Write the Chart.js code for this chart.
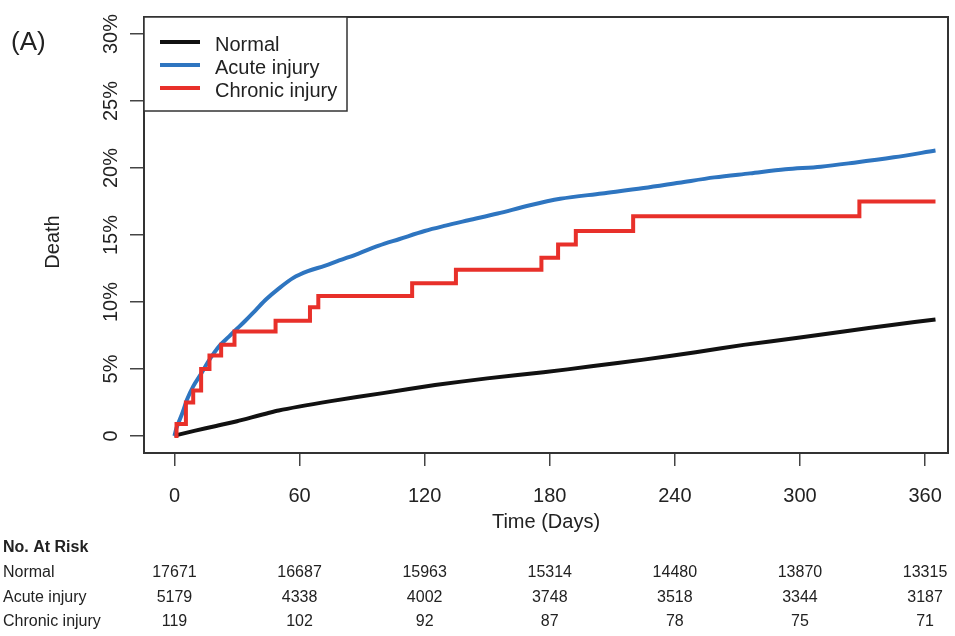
<!DOCTYPE html>
<html>
<head>
<meta charset="utf-8">
<script src="https://cdn.jsdelivr.net/npm/chart.js@4"></script>
<style>
  body { margin: 0; background: #fff; }
  canvas { display: block; }
</style>
</head>
<body>
<canvas id="myChart" width="955" height="636"></canvas>
<script>
// ===== data =====
const xTicks = [0, 60, 120, 180, 240, 300, 360];
const yTicks = [0, 5, 10, 15, 20, 25, 30];
const yTickLabels = ['0', '5%', '10%', '15%', '20%', '25%', '30%'];

const seriesNames = ['Normal', 'Acute injury', 'Chronic injury'];

const normalDays = [0, 2, 10, 20, 30, 50, 75, 100, 125, 150, 177, 200, 225, 250, 273, 300, 321, 345, 365];
const normalPct  = [0, 0.1, 0.4, 0.75, 1.1, 1.9, 2.6, 3.2, 3.8, 4.3, 4.75, 5.2, 5.7, 6.25, 6.8, 7.35, 7.8, 8.3, 8.7];

const acuteDays = [0, 1, 2, 4, 6, 9, 13, 16, 19, 22, 26, 30, 34, 39, 44, 50, 57, 64, 72, 79, 88, 98, 108, 120, 130, 141, 155, 170, 185, 205, 225, 242, 259, 276, 293, 310, 326, 345, 365];
const acutePct  = [0, 0.6, 1.0, 1.8, 2.7, 3.7, 4.7, 5.5, 6.2, 6.8, 7.4, 8.0, 8.6, 9.4, 10.2, 11.0, 11.8, 12.3, 12.7, 13.1, 13.6, 14.2, 14.7, 15.3, 15.7, 16.1, 16.6, 17.2, 17.7, 18.1, 18.5, 18.9, 19.3, 19.6, 19.9, 20.1, 20.4, 20.8, 21.3];

const chronicDays = [0, 1, 5.5, 9, 12.8, 16.8, 22.4, 28.8, 48.5, 65, 69, 114, 135, 176, 184, 192.5, 220, 328.5, 365];
const chronicPct  = [0, 0.9, 2.5, 3.4, 5.0, 6.0, 6.8, 7.8, 8.6, 9.6, 10.45, 11.4, 12.4, 13.3, 14.3, 15.3, 16.4, 17.5, 17.5];

// No. At Risk table
const riskNormal  = [17671, 16687, 15963, 15314, 14480, 13870, 13315];
const riskAcute   = [5179, 4338, 4002, 3748, 3518, 3344, 3187];
const riskChronic = [119, 102, 92, 87, 78, 75, 71];

const colors = ['#111111', 'rgb(46, 117, 192)', 'rgb(232, 48, 42)'];
const FONT = '"Liberation Sans", Arial, sans-serif';

function toPoints(days, vals) {
  return days.map((d, i) => ({ x: d, y: vals[i] }));
}

// ===== R style decorations: box, rotated y labels, legend, risk table =====
const decorations = {
  id: 'decorations',
  beforeDatasetsDraw(chart) {
    const { ctx, chartArea: a } = chart;
    ctx.save();
    ctx.strokeStyle = '#333';
    ctx.lineWidth = 2;
    ctx.strokeRect(a.left, a.top, a.right - a.left, a.bottom - a.top);
    ctx.restore();
  },
  afterDraw(chart) {
    const { ctx, chartArea: a } = chart;
    const ys = chart.scales.y;
    const xs = chart.scales.x;
    ctx.save();
    ctx.fillStyle = '#222';

    // y tick labels, rotated like R's las=0
    ctx.font = `20px ${FONT}`;
    ctx.textAlign = 'center';
    ctx.textBaseline = 'middle';
    yTicks.forEach((v, i) => {
      ctx.save();
      ctx.translate(111, ys.getPixelForValue(v));
      ctx.rotate(-Math.PI / 2);
      ctx.fillText(yTickLabels[i], 0, 0);
      ctx.restore();
    });

    // y axis title
    ctx.save();
    ctx.translate(53, 242);
    ctx.rotate(-Math.PI / 2);
    ctx.fillText('Death', 0, 0);
    ctx.restore();

    // panel tag
    ctx.font = `26px ${FONT}`;
    ctx.textAlign = 'left';
    ctx.fillText('(A)', 11, 43);

    // legend box
    ctx.fillStyle = '#fff';
    ctx.fillRect(a.left, a.top, 203, 94);
    ctx.strokeStyle = '#333';
    ctx.lineWidth = 1.5;
    ctx.strokeRect(a.left, a.top, 203, 94);
    ctx.font = `20px ${FONT}`;
    seriesNames.forEach((name, i) => {
      const ly = a.top + 25 + i * 23;
      ctx.strokeStyle = colors[i];
      ctx.lineWidth = 4;
      ctx.beginPath();
      ctx.moveTo(a.left + 16, ly);
      ctx.lineTo(a.left + 56, ly);
      ctx.stroke();
      ctx.fillStyle = '#222';
      ctx.fillText(name, a.left + 71, ly + 3);
    });

    // No. At Risk table
    ctx.fillStyle = '#222';
    ctx.font = `bold 16px ${FONT}`;
    ctx.textAlign = 'left';
    ctx.fillText('No. At Risk', 3, 548);
    const rows = [riskNormal, riskAcute, riskChronic];
    rows.forEach((row, r) => {
      const ry = 573 + r * 24.5;
      ctx.font = `16px ${FONT}`;
      ctx.textAlign = 'left';
      ctx.fillText(seriesNames[r], 3, ry);
      ctx.textAlign = 'center';
      row.forEach((n, i) => {
        ctx.fillText(String(n), xs.getPixelForValue(xTicks[i]), ry);
      });
    });
    ctx.restore();
  }
};

// ===== chart =====
const data = {
  datasets: [
    {
      label: seriesNames[0],
      data: toPoints(normalDays, normalPct),
      borderColor: colors[0],
      borderWidth: 4,
      pointRadius: 0,
      tension: 0.2,
      order: 3,
    },
    {
      label: seriesNames[1],
      data: toPoints(acuteDays, acutePct),
      borderColor: colors[1],
      borderWidth: 4,
      pointRadius: 0,
      cubicInterpolationMode: 'monotone',
      order: 2,
    },
    {
      label: seriesNames[2],
      data: toPoints(chronicDays, chronicPct),
      borderColor: colors[2],
      borderWidth: 4,
      pointRadius: 0,
      stepped: true,
      order: 1,
    },
  ],
};

const config = {
  type: 'line',
  data,
  options: {
    responsive: false,
    animation: false,
    events: [],
    layout: { padding: { left: 0, top: 17, right: 7, bottom: 100 } },
    plugins: {
      legend: { display: false },
      tooltip: { enabled: false },
    },
    scales: {
      x: {
        type: 'linear',
        min: -14.6,
        max: 371,
        afterBuildTicks: s => { s.ticks = xTicks.map(v => ({ value: v })); },
        afterFit: s => { s.height = 83; s.paddingLeft = 0; s.paddingRight = 0; },
        border: { display: false },
        grid: { drawOnChartArea: false, drawTicks: true, tickLength: 13, color: '#444', lineWidth: 1.5 },
        ticks: { color: '#222', font: { family: FONT, size: 20 }, padding: 18, maxRotation: 0 },
        title: { display: true, text: 'Time (Days)', color: '#222', font: { family: FONT, size: 20 }, padding: { top: 0, bottom: 2 } },
      },
      y: {
        type: 'linear',
        min: -1.27,
        max: 31.27,
        afterBuildTicks: s => { s.ticks = yTicks.map(v => ({ value: v })); },
        afterFit: s => { s.width = 144; s.paddingTop = 0; s.paddingBottom = 0; },
        border: { display: false },
        grid: { drawOnChartArea: false, drawTicks: true, tickLength: 14, color: '#444', lineWidth: 1.5 },
        ticks: { display: false },
        title: { display: false },
      },
    },
  },
  plugins: [decorations],
};

new Chart(document.getElementById('myChart'), config);
</script>
</body>
</html>
